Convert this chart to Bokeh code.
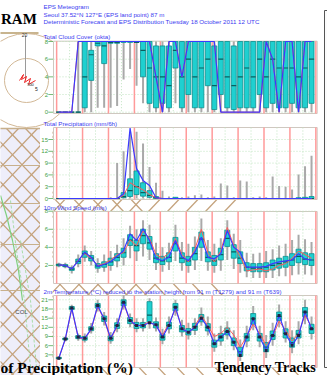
from bokeh.plotting import figure
from bokeh.models import Range1d
from bokeh.embed import file_html
from bokeh.resources import INLINE
from bokeh.core.properties import value

# ---------------- data ----------------
hours = [0, 6, 12, 18, 24, 30, 36, 42, 48, 54, 60, 66, 72, 78, 84, 90, 96, 102, 108, 114,
         120, 126, 132, 138, 144, 150, 156, 162, 168, 174, 180, 186, 192, 198, 204, 210, 216, 222, 228, 234]
day_lines = [-2, 22, 46, 70, 94, 118, 142, 166, 190, 214, 238]
mid_lines = [10, 34, 58, 82, 106, 130, 154, 178, 202, 226]

# Total cloud cover (okta)
C_det = [0, 0, 0, 8, 8, 8, 8, 8, 8, 8, 8, 8, 8, 8, 8, 4, 0, 8, 8, 4,
         8, 8, 8, 8, 8, 0, 0, 0, 0, 0, 0, 0, 8, 6, 0, 8, 8, 0, 8, 8]
C_lo = [0, 0, 0, 0, 0, 0, 0.5, 0.5, 0.5, 0.7, 3.7, 4.9, 3, 1, 0, 0, 0, 0, 1, 0,
        0, 0, 0, 0, 0, 0, 0, 0, 0, 0, 0, 0, 0, 0, 0, 0, 0, 0, 0, 0]
C_q25 = [0, 0, 0, 0, 0.5, 3.6, 7.5, 5.5, 7.8, 7.8, 7.9, 7.9, 7.9, 4, 1, 0.5, 1, 0.5, 5, 0.5,
         2, 0.5, 0.5, 3, 0.3, 2, 0.5, 0.3, 0.5, 0.5, 0.5, 2, 0.5, 1, 0.5, 0.5, 1, 0.5, 0.5, 1]
C_med = [0, 0, 0, 0, 4, 6.5, 7.8, 7.5, 7.9, 7.9, 8, 8, 7.9, 7, 5, 4, 4, 3, 7, 4,
         6, 4, 5, 6, 3, 6, 4, 3, 4, 5, 4, 6, 4, 6, 5, 5, 5, 4, 5, 6]
C_q75 = [0, 0, 0, 0, 8, 7, 8, 8, 8, 8, 8, 8, 8, 8, 8, 7.5, 7.5, 7.5, 8, 8,
         8, 8, 8, 8, 7.5, 8, 8, 7.5, 8, 8, 8, 8, 8, 8, 8, 8, 8, 8, 8, 8]
C_hi = [0, 0, 0, 8, 8, 8, 8, 8, 8, 8, 8, 8, 8, 8, 8, 8, 8, 8, 8, 8,
        8, 8, 8, 8, 8, 8, 8, 8, 8, 8, 8, 8, 8, 8, 8, 8, 8, 8, 8, 8]

# Total precipitation (mm/6h)
P_det = [0, 0, 0, 0, 0, 0, 0, 0, 0, 0, 1.2, 17.9, 7.6, 4.6, 3.3, 0.2, 0, 0, 0, 0,
         0, 0, 0, 0, 0, 0, 0, 0, 0, 0, 0, 0, 0, 0, 0, 0, 0, 0, 0, 0]
P_ctl = [0, 0, 0, 0, 0, 0, 0, 0, 0, 0, 0.8, 4.0, 3.0, 2.2, 1.0, 0.2, 0, 0, 0, 0,
         0, 0, 0, 0, 0, 0, 0, 0, 0, 0, 0, 0, 0, 0, 0, 0, 0, 0, 0, 0]
P_lo = [0] * 40
P_q25 = [0, 0, 0, 0, 0, 0, 0, 0, 0, 0, 0.2, 0.5, 1.0, 0.6, 0.3, 0, 0, 0, 0, 0,
         0, 0, 0, 0, 0, 0, 0, 0, 0, 0, 0, 0, 0, 0, 0, 0, 0, 0, 0, 0]
P_med = [0, 0, 0, 0, 0, 0, 0, 0, 0, 0, 0.5, 2.0, 3.0, 1.5, 0.8, 0.2, 0, 0, 0, 0,
         0, 0, 0, 0, 0, 0, 0, 0, 0, 0, 0, 0, 0, 0, 0, 0, 0, 0, 0, 0]
P_q75 = [0, 0, 0, 0, 0, 0, 0, 0, 0, 0, 1.5, 5.0, 7.0, 4.0, 2.0, 0.5, 0, 0, 0.3, 0,
         0, 0, 0, 0, 0, 0, 0, 0, 0, 0, 0, 0, 0, 0, 0, 0, 0, 0.2, 0.3, 0.5]
P_hi = [0, 0, 0, 0, 0, 0, 0, 0, 0.3, 9, 12, 17, 17, 14, 8, 4, 2, 0.5, 0.3, 0.3,
        0.5, 0.8, 1, 0.3, 0.5, 3.8, 3.3, 0.3, 4.6, 4.3, 0.3, 0.5, 0.3, 5.6, 3.2, 3, 2.3, 6.1, 8.2, 10.9]

# 10m wind speed (m/s)
W_det = [2.07, 2.0, 1.63, 2.5, 3.47, 2.9, 1.9, 2.1, 2.4, 3.0, 3.65, 5.5, 4.76, 6.05, 4.76, 2.73, 2.54, 2.9, 4.76, 2.9,
         2.54, 3.47, 5.13, 2.9, 2.73, 3.28, 5.87, 4.0, 3.47, 1.81, 1.81, 1.81, 1.9, 2.2, 2.4, 2.5, 2.6, 3.3, 2.7, 2.6]
W_ctl = [2.07, 2.0, 1.6, 2.6, 3.3, 2.8, 2.0, 2.2, 2.6, 3.2, 3.4, 4.8, 4.2, 5.8, 5.0, 3.2, 2.8, 3.4, 5.0, 3.2,
         2.4, 3.8, 6.0, 3.4, 2.4, 3.6, 6.2, 4.2, 3.0, 1.4, 1.5, 1.6, 1.4, 1.6, 2.0, 2.2, 2.8, 3.6, 3.2, 2.8]
W_lo = [1.8, 1.7, 1.1, 1.8, 2.4, 2.0, 1.2, 1.3, 1.4, 1.8, 2.0, 2.8, 2.5, 3.0, 2.6, 1.5, 1.3, 1.5, 2.5, 1.4,
        1.2, 1.5, 2.5, 1.4, 1.2, 1.4, 2.6, 1.6, 1.2, 0.7, 0.6, 0.6, 0.6, 0.6, 0.8, 0.8, 0.9, 1.0, 1.0, 0.9]
W_q25 = [1.95, 1.85, 1.45, 2.2, 2.9, 2.5, 1.7, 1.8, 2.0, 2.5, 2.9, 4.2, 3.6, 4.4, 3.8, 2.3, 2.1, 2.4, 3.6, 2.3,
         2.0, 2.6, 4.0, 2.4, 2.0, 2.6, 4.1, 2.8, 2.2, 1.4, 1.3, 1.3, 1.3, 1.5, 1.7, 1.8, 2.0, 2.3, 2.1, 2.0]
W_med = [2.05, 1.95, 1.6, 2.45, 3.3, 2.8, 1.95, 2.1, 2.4, 2.9, 3.4, 4.8, 4.2, 5.3, 4.5, 2.8, 2.5, 2.9, 4.4, 2.8,
         2.5, 3.3, 4.9, 2.9, 2.5, 3.2, 5.0, 3.5, 2.8, 1.8, 1.7, 1.7, 1.8, 2.0, 2.2, 2.4, 2.6, 3.0, 2.7, 2.6]
W_q75 = [2.15, 2.1, 1.75, 2.7, 3.6, 3.1, 2.2, 2.4, 2.8, 3.3, 3.9, 5.4, 4.8, 6.0, 5.2, 3.3, 3.0, 3.4, 5.1, 3.4,
         3.0, 4.0, 5.7, 3.5, 3.1, 3.9, 5.9, 4.3, 3.5, 2.3, 2.2, 2.2, 2.3, 2.6, 2.8, 3.0, 3.3, 3.8, 3.4, 3.3]
W_hi = [2.3, 2.3, 2.0, 3.2, 4.2, 3.6, 2.8, 3.2, 3.6, 4.3, 5.0, 6.4, 6.0, 7.0, 6.5, 4.5, 4.0, 4.5, 6.5, 4.6,
        4.4, 5.2, 7.2, 4.8, 4.4, 5.0, 7.0, 5.5, 4.8, 3.4, 3.3, 3.4, 3.6, 3.8, 4.2, 4.4, 4.8, 5.4, 4.9, 4.6]

# 2m temperature (deg C)
T_det = [1.9, 8.2, 18.3, 8.8, 8.4, 11.5, 19.1, 14.8, 8.4, 12.6, 20.2, 14.2, 12.6, 12.6, 13.5, 12.8, 8.8, 12.6, 18.6, 11.5,
         10.4, 12.0, 15.0, 12.0, 6.6, 8.8, 10.6, 7.1, 2.8, 8.8, 14.8, 8.8, 4.4, 9.3, 15.9, 9.9, 6.1, 9.3, 17.0, 11.5]
T_ctl = [1.9, 8.0, 18.0, 8.6, 8.2, 11.2, 18.8, 14.5, 8.0, 12.2, 19.8, 14.0, 12.4, 12.8, 13.8, 12.5, 9.5, 13.2, 18.0, 12.0,
         10.0, 12.5, 16.0, 12.5, 9.0, 10.0, 12.0, 9.5, 5.5, 9.0, 13.0, 10.0, 6.0, 9.0, 14.0, 11.0, 7.5, 10.0, 16.0, 12.0]
T_lo = [1.4, 7.4, 17.2, 7.6, 7.0, 10.0, 17.2, 12.6, 6.6, 10.4, 17.8, 12.0, 10.4, 10.6, 11.5, 10.6, 6.5, 10.0, 15.8, 9.0,
        8.0, 9.5, 12.5, 9.3, 4.0, 6.0, 8.0, 4.5, 1.0, 5.5, 11.0, 5.5, 2.0, 6.0, 12.0, 7.0, 3.5, 6.5, 13.0, 8.0]
T_q25 = [1.7, 7.9, 17.8, 8.3, 7.8, 10.9, 18.3, 13.9, 7.6, 11.6, 19.0, 13.2, 11.6, 11.8, 13.5, 11.8, 7.8, 11.5, 17.4, 10.5,
         9.5, 11.0, 13.8, 10.8, 5.5, 7.5, 9.5, 6.0, 2.5, 7.5, 13.0, 7.5, 4.0, 8.0, 14.2, 8.5, 5.5, 8.5, 15.5, 10.0]
T_med = [1.9, 8.2, 18.2, 8.8, 8.4, 11.5, 19.0, 14.8, 8.4, 12.6, 20.0, 14.2, 12.6, 12.7, 16.0, 12.8, 8.8, 12.6, 18.6, 11.5,
         10.5, 12.2, 15.0, 12.0, 6.6, 8.8, 10.6, 7.2, 4.0, 8.8, 14.8, 8.8, 5.5, 9.3, 15.6, 10.0, 7.0, 9.8, 17.0, 11.5]
T_q75 = [2.2, 8.5, 18.8, 9.3, 9.0, 12.2, 19.8, 15.7, 9.2, 13.5, 21.0, 15.2, 13.6, 13.6, 20.4, 13.8, 9.8, 13.7, 19.8, 12.6,
         11.6, 13.3, 16.2, 13.2, 7.8, 10.0, 11.8, 8.5, 5.5, 10.0, 16.5, 10.0, 7.0, 10.8, 17.0, 11.5, 8.5, 11.0, 18.5, 13.0]
T_hi = [2.5, 9.0, 19.4, 10.0, 10.0, 13.4, 21.0, 17.0, 10.5, 15.0, 22.5, 16.5, 15.0, 15.0, 21.5, 15.2, 11.5, 15.5, 21.0, 14.5,
        13.5, 15.0, 18.5, 15.5, 10.0, 12.5, 14.0, 11.0, 8.0, 12.5, 19.0, 12.5, 9.5, 13.5, 19.5, 14.0, 11.0, 14.0, 21.0, 15.5]

panel_titles = ["Total Cloud Cover (okta)", "Total Precipitation (mm/6h)", "10m Wind Speed (m/s)",
                "2m Temperature  (\u00b0C) reduced to the station height from 91 m (T1279) and 91 m (T639)"]
cloud_ticks = [0, 2, 4, 6, 8]
precip_ticks = [0, 3, 6, 9, 12, 15]
wind_ticks = [2, 4, 6, 8]
temp_ticks = [3, 6, 9, 12, 15, 18, 21]
header = ["EPS Meteogram",
          "Seoul 37.52\u00b0N 127\u00b0E (EPS land point) 87 m",
          "Deterministic Forecast and EPS Distribution Tuesday 18 October 2011 12 UTC"]

# ---------------- layout (reference pixel space) ----------------
X0, X1, Y0, Y1 = 0, 327, 0, 375
p = figure(width=X1 - X0, height=Y1 - Y0, x_range=Range1d(X0, X1), y_range=Range1d(Y1, Y0),
           output_backend="svg", toolbar_location=None, min_border=0)
p.axis.visible = False
p.grid.visible = False
p.outline_line_color = None
p.min_border_left = p.min_border_right = p.min_border_top = p.min_border_bottom = 0

T_PX0, T_PPH = 58.3, 6.48 / 6.0  # px of hour 0, px per hour
p.extra_x_ranges = {"t": Range1d((X0 - T_PX0) / T_PPH, (X1 - T_PX0) / T_PPH)}


def yrange(px_a, v_a, px_b, v_b):
    s = (px_a - px_b) / (v_b - v_a)
    return Range1d(start=v_a + (px_a - Y1) / s, end=v_a + (px_a - Y0) / s)


FL, FR = 53, 316.7
panels = {
    "cloud": dict(r=yrange(111.7, 0, 41.0, 8), top=40.7, bot=113, ticks=cloud_ticks, title_y=36),
    "precip": dict(r=yrange(198.0, 0, 139.0, 15), top=127, bot=199, ticks=precip_ticks, title_y=123),
    "wind": dict(r=yrange(283.0, 0, 210.7, 8), top=211, bot=283, ticks=wind_ticks, title_y=206.5),
    "temp": dict(r=yrange(363.5, 0, 299.3, 21), top=295, bot=367, ticks=temp_ticks, title_y=290.7),
}
for k, v in panels.items():
    p.extra_y_ranges[k] = v["r"]

FONT = value("Liberation Sans")
SERIF = value("Liberation Serif")

# ---------- left diagram (hodograph + skew-T), partial ----------
p.quad(left=[-5], right=[39.5], top=[128], bottom=[Y1 + 5], fill_color="#eeeefa", line_color=None)
for c in range(-260, 80, 19):
    p.line([c, c + 240], [Y1 + 5, 128], line_color="#c4a27c", line_width=1.3)
    p.line([c, c + 240], [128, Y1 + 5], line_color="#c4a27c", line_width=1.3)
p.quad(left=[39.5], right=[52], top=[120], bottom=[Y1 + 5], fill_color="white", line_color=None)
for yy in [128, 165, 203, 244, 290]:
    p.line([-5, 39.5], [yy, yy], line_color="#c8b08c", line_width=1.5 if yy == 128 else 1)
p.line([0, 6, 12, 18, 22], [195, 215, 240, 270, 300], line_color="#7fd07f", line_width=1.2)
p.line([10, 16, 24, 30], [200, 250, 300, 367], line_color="#a8dca8", line_width=1, line_dash="3 2")
p.line([20, 30, 36], [240, 300, 367], line_color="#a8dca8", line_width=1, line_dash="3 2")
p.text(x=[21], y=[311], text=["COL"], text_font=FONT, text_font_size="6px", text_color="#444444",
       text_align="center", text_baseline="middle")

p.line([-5, 38], [32.5, 32.5], line_color="#c8b48e", line_width=2)
p.circle(x=[26], y=[80], radius=22, fill_color=None, line_color="#d2b896", line_width=1)
p.circle(x=[26], y=[80], radius=47, fill_color=None, line_color="#d2b896", line_width=1)
p.line([25, 25], [35, 80], line_color="#9a9a9a", line_width=1)
p.text(x=[24], y=[34.5], text=["20"], text_font=FONT, text_font_size="5px", text_color="#333333",
       text_align="center", text_baseline="middle")
p.line([19, 23, 21, 26, 24, 30, 28, 35], [80, 74, 79, 76, 82, 78, 84, 80], line_color="#ee2222", line_width=1)
p.text(x=[30], y=[84], text=["500"], text_font=FONT, text_font_size="4px", text_color="#222222",
       text_align="center", text_baseline="middle")
p.text(x=[36], y=[88], text=["5"], text_font=FONT, text_font_size="5px", text_color="#222222",
       text_align="center", text_baseline="middle")
p.text(x=[0.5], y=[18.5], text=["RAM"], text_font=SERIF, text_font_style="bold", text_font_size="15px",
       text_color="black", text_align="left", text_baseline="alphabetic")

# ---------- meteogram header ----------
p.text(x=[43, 43, 43], y=[5.8, 13.8, 20.8], text=header, text_font=FONT, text_font_size="6.2px",
       text_color="#3b3bf0", text_align="left", text_baseline="middle")

# ---------- right neighbouring panel (edge strip) ----------
p.quad(left=[324], right=[330], top=[10], bottom=[367], fill_color="#fbfbfb", line_color="#555555",
       line_width=1)

# ---------- panel frames, grids, ticks ----------
for (k, v), title in zip(panels.items(), panel_titles):
    p.quad(left=[FL], right=[FR], top=[v["top"]], bottom=[v["bot"]], fill_color="white",
           line_color="#cfc8c0", line_width=1)
    p.segment(x0=[FL] * len(v["ticks"]), x1=[FR] * len(v["ticks"]), y0=v["ticks"], y1=v["ticks"],
              y_range_name=k, line_color="#bfe3bf", line_width=1, line_dash="1 2")
    p.segment(x0=mid_lines, x1=mid_lines, y0=[v["top"]] * len(mid_lines), y1=[v["bot"]] * len(mid_lines),
              x_range_name="t", line_color="#bfe3bf", line_width=1, line_dash="1 2")
    p.segment(x0=day_lines, x1=day_lines, y0=[v["top"]] * len(day_lines), y1=[v["bot"]] * len(day_lines),
              x_range_name="t", line_color="#ff9a9a", line_width=1.5)
    p.segment(x0=[47.8] * len(v["ticks"]), x1=[52.5] * len(v["ticks"]), y0=v["ticks"], y1=v["ticks"],
              y_range_name=k, line_color="#55aa55", line_width=0.8)
    p.text(x=[47.5] * len(v["ticks"]), y=v["ticks"], text=[str(t) for t in v["ticks"]], y_range_name=k,
           text_font=FONT, text_font_size="6px", text_color="#44a044", text_align="right",
           text_baseline="middle")
    p.text(x=[43], y=[v["title_y"]], text=[title], text_font=FONT, text_font_size="6.2px",
           text_color="#3b3bf0", text_align="left", text_baseline="middle")

BW = 5.0 / T_PPH


def boxes(name, lo, q25, med, q75, hi, ctl, det, med_marker=True):
    p.segment(x0=hours, y0=lo, x1=hours, y1=hi, x_range_name="t", y_range_name=name,
              line_color="#a9a9a9", line_width=2)
    p.vbar(x=hours, bottom=q25, top=q75, width=BW, x_range_name="t", y_range_name=name,
           fill_color="#1fd0d0", line_color="#0c8f8f", line_width=0.8)
    if med_marker:
        p.scatter(x=hours, y=med, marker="dash", size=5, x_range_name="t", y_range_name=name,
                  line_color="#0b5f5f", line_width=1.2)
    p.line(hours, ctl, x_range_name="t", y_range_name=name, line_color="#ff5a5a", line_width=1)
    p.line(hours, det, x_range_name="t", y_range_name=name, line_color="#3a3aff", line_width=1.2)


boxes("cloud", C_lo, C_q25, C_med, C_q75, C_hi, C_det, C_det)
boxes("precip", P_lo, P_q25, P_med, P_q75, P_hi, P_ctl, P_det)
boxes("wind", W_lo, W_q25, W_med, W_q75, W_hi, W_ctl, W_det)
boxes("temp", T_lo, T_q25, T_med, T_q75, T_hi, T_ctl, T_det)
p.scatter(x=hours, y=T_det, marker="square", size=3, x_range_name="t", y_range_name="temp",
          fill_color="#222244", line_color=None)

# ---------- bottom captions ----------
p.text(x=[0], y=[367], text=["of Precipitation (%)"], text_font=SERIF, text_font_style="bold",
       text_font_size="15.5px", text_color="black", text_align="left", text_baseline="alphabetic")
p.text(x=[214], y=[367], text=["Tendency Tracks"], text_font=SERIF, text_font_style="bold",
       text_font_size="14px", text_color="black", text_align="left", text_baseline="alphabetic")

open("out.html", "w").write(file_html(p, INLINE))
